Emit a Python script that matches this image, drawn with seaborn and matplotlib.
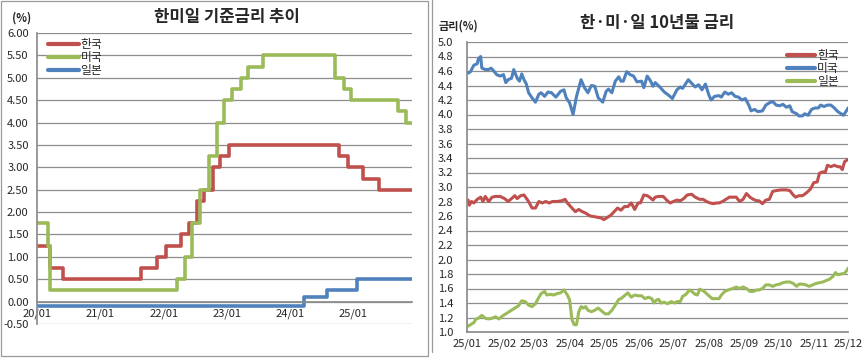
import pandas as pd
import matplotlib.pyplot as plt
import matplotlib.dates as mdates
import seaborn as sns
from matplotlib.lines import Line2D
from matplotlib.patches import Rectangle

# ---- policy rates: date of each change and the new rate ----
kr_dates = ['2020-01-01', '2020-03-17', '2020-05-28', '2021-08-26', '2021-11-25',
            '2022-01-14', '2022-04-14', '2022-05-26', '2022-07-13', '2022-08-25',
            '2022-10-12', '2022-11-24', '2023-01-13', '2024-10-11', '2024-11-28',
            '2025-02-25', '2025-05-29']
kr_rates = [1.25, 0.75, 0.50, 0.75, 1.00, 1.25, 1.50, 1.75, 2.25, 2.50,
            3.00, 3.25, 3.50, 3.25, 3.00, 2.75, 2.50]

us_dates = ['2020-01-01', '2020-03-03', '2020-03-16', '2022-03-17', '2022-05-05',
            '2022-06-16', '2022-07-28', '2022-09-22', '2022-11-03', '2022-12-15',
            '2023-02-02', '2023-03-23', '2023-05-04', '2023-07-27', '2024-09-19',
            '2024-11-08', '2024-12-19', '2025-09-18', '2025-10-30']
us_rates = [1.75, 1.25, 0.25, 0.50, 1.00, 1.75, 2.50, 3.25, 4.00, 4.50,
            4.75, 5.00, 5.25, 5.50, 5.00, 4.75, 4.50, 4.25, 4.00]

jp_dates = ['2020-01-01', '2024-03-19', '2024-07-31', '2025-01-24']
jp_rates = [-0.10, 0.10, 0.25, 0.50]

policy_end = '2025-12-05'
policy_ticks = [-0.5, 0.0, 0.5, 1.0, 1.5, 2.0, 2.5, 3.0, 3.5, 4.0, 4.5, 5.0, 5.5, 6.0]

# ---- 10-year yields, 2025 (month-day) ----
kr10_days = ['01-02', '01-03', '01-05', '01-07', '01-10', '01-13', '01-15', '01-17', '01-20', '01-23',
             '01-26', '01-30', '02-03', '02-06', '02-09', '02-12', '02-14', '02-17', '02-20', '02-24',
             '02-27', '03-02', '03-05', '03-08', '03-11', '03-14', '03-17', '03-21', '03-25', '03-28',
             '03-30', '04-03', '04-06', '04-09', '04-12', '04-15', '04-19', '04-23', '04-26', '04-29',
             '05-01', '05-04', '05-07', '05-10', '05-13', '05-16', '05-19', '05-22', '05-25', '05-28',
             '05-31', '06-02', '06-05', '06-08', '06-10', '06-13', '06-15', '06-18', '06-22', '06-25',
             '06-28', '07-01', '07-04', '07-07', '07-10', '07-13', '07-17', '07-20', '07-24', '07-27',
             '07-30', '08-02', '08-05', '08-08', '08-10', '08-13', '08-16', '08-19', '08-22', '08-25',
             '08-28', '08-31', '09-03', '09-06', '09-09', '09-12', '09-14', '09-17', '09-20', '09-23',
             '09-26', '09-29', '10-03', '10-08', '10-11', '10-14', '10-16', '10-19', '10-22', '10-24',
             '10-27', '10-29', '11-01', '11-04', '11-06', '11-09', '11-11', '11-13', '11-16', '11-19',
             '11-22', '11-24', '11-26', '11-28', '12-01']
kr10 = [2.82, 2.75, 2.80, 2.78, 2.83, 2.86, 2.80, 2.87, 2.80, 2.86,
        2.87, 2.87, 2.84, 2.80, 2.84, 2.88, 2.84, 2.88, 2.89, 2.80,
        2.71, 2.71, 2.80, 2.78, 2.80, 2.78, 2.80, 2.80, 2.81, 2.83,
        2.78, 2.71, 2.66, 2.69, 2.66, 2.64, 2.60, 2.59, 2.58, 2.57,
        2.55, 2.58, 2.61, 2.66, 2.71, 2.68, 2.73, 2.73, 2.78, 2.69,
        2.78, 2.78, 2.89, 2.88, 2.86, 2.82, 2.86, 2.87, 2.87, 2.82,
        2.78, 2.80, 2.82, 2.81, 2.84, 2.89, 2.90, 2.86, 2.83, 2.83,
        2.80, 2.78, 2.77, 2.78, 2.78, 2.80, 2.83, 2.86, 2.86, 2.86,
        2.80, 2.83, 2.91, 2.86, 2.83, 2.81, 2.81, 2.77, 2.82, 2.83,
        2.94, 2.95, 2.96, 2.96, 2.95, 2.89, 2.86, 2.88, 2.88, 2.90,
        2.94, 2.97, 3.06, 3.07, 3.19, 3.21, 3.20, 3.30, 3.28, 3.30,
        3.28, 3.28, 3.24, 3.35, 3.38]

us10_days = ['01-02', '01-04', '01-07', '01-10', '01-11', '01-13', '01-14', '01-17', '01-20', '01-22',
             '01-24', '01-27', '01-30', '02-02', '02-04', '02-06', '02-09', '02-11', '02-14', '02-16',
             '02-18', '02-20', '02-22', '02-24', '02-27', '03-02', '03-05', '03-07', '03-10', '03-13',
             '03-16', '03-20', '03-24', '03-27', '03-29', '04-01', '04-04', '04-07', '04-11', '04-14',
             '04-17', '04-20', '04-23', '04-26', '04-30', '05-03', '05-05', '05-08', '05-11', '05-14',
             '05-16', '05-18', '05-21', '05-24', '05-27', '05-30', '06-03', '06-05', '06-08', '06-11',
             '06-13', '06-15', '06-19', '06-23', '06-28', '06-30', '07-04', '07-07', '07-09', '07-14',
             '07-17', '07-20', '07-23', '07-26', '07-29', '08-01', '08-03', '08-06', '08-10', '08-12',
             '08-15', '08-18', '08-21', '08-24', '08-27', '08-30', '09-02', '09-05', '09-07', '09-10',
             '09-13', '09-17', '09-20', '09-23', '09-26', '09-29', '10-02', '10-05', '10-08', '10-11',
             '10-13', '10-17', '10-19', '10-22', '10-24', '10-27', '10-30', '11-02', '11-05', '11-07',
             '11-10', '11-13', '11-16', '11-19', '11-22', '11-25', '11-27', '11-30', '12-01']
us10 = [4.57, 4.59, 4.68, 4.70, 4.77, 4.80, 4.64, 4.62, 4.62, 4.64,
        4.61, 4.55, 4.53, 4.55, 4.44, 4.48, 4.50, 4.62, 4.50, 4.46,
        4.56, 4.48, 4.42, 4.30, 4.23, 4.17, 4.28, 4.30, 4.25, 4.31,
        4.30, 4.24, 4.32, 4.34, 4.23, 4.16, 4.00, 4.25, 4.48, 4.37,
        4.30, 4.40, 4.39, 4.23, 4.17, 4.32, 4.35, 4.30, 4.46, 4.52,
        4.46, 4.46, 4.59, 4.55, 4.53, 4.45, 4.46, 4.37, 4.53, 4.46,
        4.39, 4.44, 4.38, 4.31, 4.25, 4.22, 4.34, 4.38, 4.36, 4.48,
        4.43, 4.38, 4.41, 4.34, 4.42, 4.27, 4.20, 4.25, 4.26, 4.24,
        4.31, 4.28, 4.30, 4.25, 4.24, 4.20, 4.22, 4.13, 4.05, 4.07,
        4.04, 4.05, 4.13, 4.16, 4.18, 4.13, 4.12, 4.14, 4.10, 4.12,
        4.04, 4.01, 3.98, 3.98, 4.01, 3.99, 4.07, 4.09, 4.09, 4.13,
        4.11, 4.13, 4.13, 4.09, 4.04, 4.01, 3.99, 4.06, 4.09]

jp10_days = ['01-02', '01-04', '01-07', '01-09', '01-11', '01-14', '01-17', '01-20', '01-23', '01-26',
             '01-29', '02-01', '02-04', '02-06', '02-09', '02-12', '02-15', '02-18', '02-21', '02-24',
             '02-27', '03-02', '03-04', '03-07', '03-10', '03-12', '03-15', '03-18', '03-21', '03-24',
             '03-27', '03-30', '04-01', '04-03', '04-05', '04-07', '04-09', '04-11', '04-13', '04-15',
             '04-17', '04-20', '04-23', '04-26', '04-29', '05-02', '05-05', '05-08', '05-11', '05-14',
             '05-16', '05-19', '05-22', '05-25', '05-28', '05-31', '06-03', '06-06', '06-09', '06-12',
             '06-14', '06-16', '06-18', '06-20', '06-23', '06-26', '06-29', '07-02', '07-04', '07-07',
             '07-09', '07-12', '07-15', '07-17', '07-20', '07-22', '07-24', '07-27', '07-30', '08-01',
             '08-04', '08-07', '08-10', '08-12', '08-15', '08-18', '08-22', '08-25', '08-28', '08-31',
             '09-03', '09-06', '09-09', '09-12', '09-14', '09-17', '09-20', '09-23', '09-26', '09-29',
             '10-02', '10-05', '10-08', '10-11', '10-14', '10-17', '10-19', '10-22', '10-25', '10-28',
             '10-31', '11-03', '11-06', '11-09', '11-12', '11-15', '11-18', '11-20', '11-22', '11-25',
             '11-28', '11-30', '12-01']
jp10 = [1.08, 1.10, 1.13, 1.18, 1.19, 1.23, 1.19, 1.18, 1.19, 1.21,
        1.18, 1.22, 1.25, 1.27, 1.30, 1.33, 1.36, 1.43, 1.42, 1.37,
        1.35, 1.39, 1.45, 1.53, 1.56, 1.51, 1.52, 1.51, 1.53, 1.54,
        1.58, 1.51, 1.44, 1.17, 1.10, 1.10, 1.28, 1.35, 1.33, 1.35,
        1.30, 1.28, 1.30, 1.33, 1.29, 1.25, 1.25, 1.30, 1.37, 1.45,
        1.46, 1.50, 1.54, 1.48, 1.51, 1.50, 1.50, 1.46, 1.48, 1.46,
        1.40, 1.44, 1.45, 1.40, 1.41, 1.39, 1.42, 1.40, 1.42, 1.42,
        1.49, 1.52, 1.58, 1.56, 1.52, 1.51, 1.59, 1.57, 1.53, 1.50,
        1.46, 1.46, 1.46, 1.51, 1.56, 1.58, 1.60, 1.62, 1.60, 1.62,
        1.60, 1.56, 1.56, 1.58, 1.58, 1.60, 1.65, 1.65, 1.63, 1.65,
        1.66, 1.68, 1.69, 1.69, 1.67, 1.63, 1.66, 1.66, 1.65, 1.63,
        1.65, 1.67, 1.68, 1.69, 1.71, 1.73, 1.77, 1.82, 1.79, 1.80,
        1.81, 1.85, 1.88]
yield_ticks = [1.0, 1.2, 1.4, 1.6, 1.8, 2.0, 2.2, 2.4, 2.6, 2.8, 3.0,
               3.2, 3.4, 3.6, 3.8, 4.0, 4.2, 4.4, 4.6, 4.8, 5.0]

countries = ['한국', '미국', '일본']
colors = {'한국': '#C0504D', '미국': '#9BBB59', '일본': '#4F81BD'}
colors10 = {'한국': '#C0504D', '미국': '#4F81BD', '일본': '#9BBB59'}
grid_c = '#8C8C8C'


def step_frame(dates, rates, name):
    d = pd.to_datetime(dates + [policy_end])
    return pd.DataFrame({'date': d, 'rate': rates + [rates[-1]], 'country': name})


def yield_frame(days, values, name):
    d = pd.to_datetime(['2025-' + x for x in days])
    return pd.DataFrame({'date': d, 'rate': values, 'country': name})


policy = pd.concat([step_frame(kr_dates, kr_rates, '한국'),
                    step_frame(us_dates, us_rates, '미국'),
                    step_frame(jp_dates, jp_rates, '일본')])
yields = pd.concat([yield_frame(kr10_days, kr10, '한국'),
                    yield_frame(us10_days, us10, '미국'),
                    yield_frame(jp10_days, jp10, '일본')])

sns.set_theme(style='white')
plt.rcParams['font.family'] = ['Noto Sans CJK KR', 'DejaVu Sans']
plt.rcParams['axes.unicode_minus'] = False

fig = plt.figure(figsize=(8.65, 3.58), dpi=100)
ax1 = fig.add_axes([37 / 865, 34 / 358, 375 / 865, 291 / 358])
ax2 = fig.add_axes([467 / 865, 26 / 358, 381 / 865, 290 / 358])

# panel frames
fig.patches.append(Rectangle((1 / 865, 2 / 358), 427 / 865, 355 / 358, transform=fig.transFigure,
                             fill=False, ec='#9A9A9A', lw=0.9))
fig.lines.append(Line2D([432 / 865, 432 / 865], [6 / 358, 1], transform=fig.transFigure,
                        color='#9A9A9A', lw=0.9))

# ---- left: policy rates ----
sns.lineplot(data=policy, x='date', y='rate', hue='country', hue_order=countries,
             palette=colors, drawstyle='steps-post', linewidth=2.6, estimator=None,
             legend=False, ax=ax1)
ax1.set_xlim(pd.Timestamp('2020-01-01'), pd.Timestamp(policy_end))
ax1.set_ylim(-0.5, 6.0)
ax1.set_yticks(policy_ticks)
ax1.set_yticklabels([f'{t:.2f}' for t in policy_ticks])
ax1.xaxis.set_major_locator(mdates.YearLocator())
ax1.xaxis.set_major_formatter(mdates.DateFormatter('%y/%m'))
ax1.yaxis.grid(True, color=grid_c, lw=0.9)
ax1.set_axisbelow(True)
ax1.spines['top'].set_visible(False)
ax1.spines['right'].set_visible(False)
ax1.spines['left'].set_color(grid_c)
ax1.spines['bottom'].set_color(grid_c)
ax1.spines['bottom'].set_position(('data', 0))
ax1.tick_params(axis='y', length=0, pad=6, labelsize=8)
ax1.tick_params(axis='x', direction='out', length=4, width=0.9, color=grid_c, pad=1, labelsize=8)
ax1.set_xlabel('')
ax1.set_ylabel('')
h1 = [Line2D([], [], color=colors[c], lw=3) for c in countries]
ax1.legend(h1, countries, loc='upper left', bbox_to_anchor=(48 / 865, 1 - 38 / 358),
           bbox_transform=fig.transFigure, frameon=False, fontsize=8.5, borderpad=0,
           borderaxespad=0, handlelength=2.6, handletextpad=0.15, labelspacing=0.0)

fig.text(227 / 865, 1 - 17 / 358, '한미일 기준금리 추이', ha='center', va='center',
         fontsize=12, fontweight='bold')
fig.text(22 / 865, 1 - 18 / 358, '(%)', ha='center', va='center', fontsize=8, fontweight='bold')

# ---- right: 10-year yields ----
sns.lineplot(data=yields, x='date', y='rate', hue='country', hue_order=countries,
             palette=colors10, linewidth=2.2, estimator=None, legend=False, ax=ax2)
ax2.set_xlim(pd.Timestamp('2025-01-01'), pd.Timestamp('2025-12-01'))
ax2.set_ylim(1.0, 5.0)
ax2.set_yticks(yield_ticks)
ax2.set_yticklabels([f'{t:.1f}' for t in yield_ticks])
ax2.xaxis.set_major_locator(mdates.MonthLocator())
ax2.xaxis.set_major_formatter(mdates.DateFormatter('%y/%m'))
ax2.yaxis.grid(True, color=grid_c, lw=0.9)
ax2.set_axisbelow(True)
ax2.spines['top'].set_visible(False)
ax2.spines['right'].set_visible(False)
ax2.spines['left'].set_color(grid_c)
ax2.spines['bottom'].set_color(grid_c)
ax2.tick_params(axis='y', length=0, pad=10, labelsize=8)
ax2.tick_params(axis='x', direction='out', length=4, width=0.9, color=grid_c, pad=1, labelsize=8)
ax2.set_xlabel('')
ax2.set_ylabel('')
h2 = [Line2D([], [], color=colors10[c], lw=3) for c in countries]
ax2.legend(h2, countries, loc='upper left', bbox_to_anchor=(787 / 865, 1 - 49 / 358),
           bbox_transform=fig.transFigure, frameon=False, fontsize=8.5, borderpad=0,
           borderaxespad=0, handlelength=2.4, handletextpad=0.15, labelspacing=0.0)

fig.text(657 / 865, 1 - 23 / 358, '한·미·일 10년물 금리', ha='center', va='center',
         fontsize=12, fontweight='bold')
fig.text(458 / 865, 1 - 26 / 358, '금리(%)', ha='center', va='center', fontsize=8, fontweight='bold')

plt.savefig('out.png', dpi=100)
